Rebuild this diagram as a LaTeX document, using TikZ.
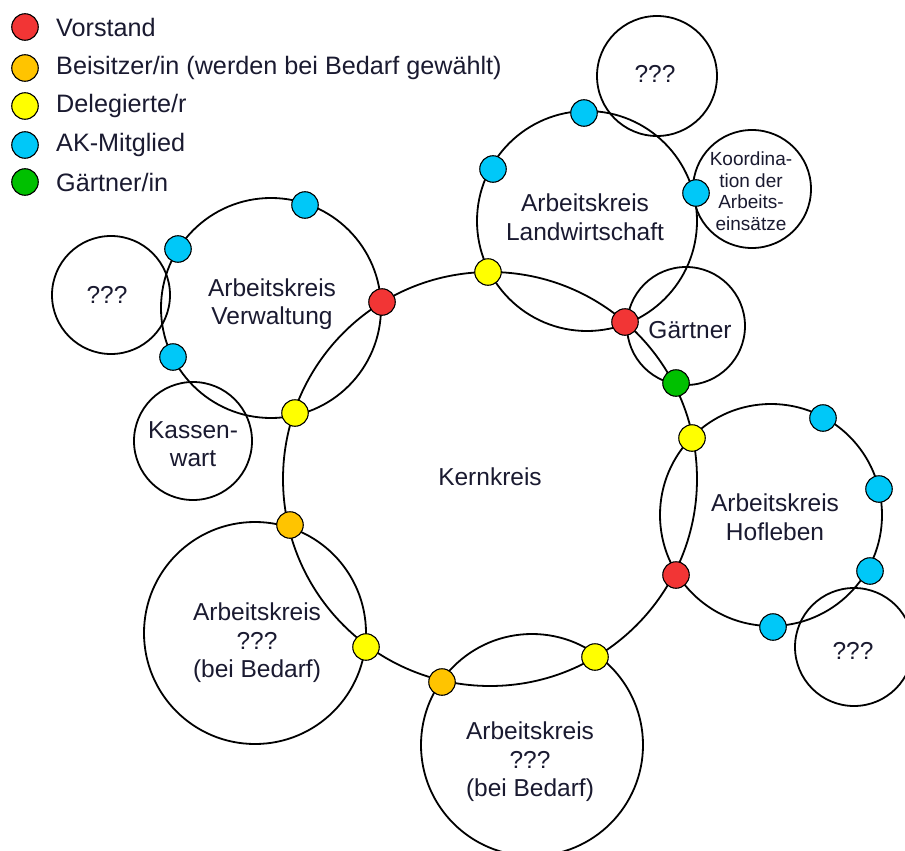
\documentclass[tikz,border=0pt]{standalone}
\usepackage{fontspec}
\setmainfont{Liberation Sans}
\definecolor{cred}{HTML}{F23535}
\definecolor{corange}{HTML}{FFC400}
\definecolor{cyellow}{HTML}{FFFF00}
\definecolor{cblue}{HTML}{00C8F8}
\definecolor{cgreen}{HTML}{00C000}
\definecolor{txt}{HTML}{1A1A30}
\begin{document}
\begin{tikzpicture}[x=1pt,y=-1pt,
  ring/.style={draw, circle, line width=1.8pt, inner sep=0pt},
  dot/.style={draw, circle, line width=1.1pt, minimum size=26.5pt, inner sep=0pt},
  vor/.style={dot, fill=cred},
  bei/.style={dot, fill=corange},
  del/.style={dot, fill=cyellow},
  akm/.style={dot, fill=cblue},
  gae/.style={dot, fill=cgreen},
  lbl/.style={align=center, font=\fontsize{24.5}{28.5}\selectfont, text=txt, inner sep=0pt},
  slbl/.style={align=center, font=\fontsize{19}{21.5}\selectfont, text=txt, inner sep=0pt},
  leg/.style={anchor=west, font=\fontsize{25.2}{29}\selectfont, text=txt, inner sep=0pt}]
\clip (0,0) rectangle (905,851);
\fill[white] (0,0) rectangle (905,851);

% circles
\node[ring, minimum size=414pt] (kern) at (490,479) {};
\node[ring, minimum size=220pt] (verw) at (271,308) {};
\node[ring, minimum size=220pt] (land) at (587,221) {};
\node[ring, minimum size=222pt] (hof) at (771,515) {};
\node[ring, minimum size=222pt] (akl) at (255,633) {};
\node[ring, minimum size=222pt] (akb) at (532,745) {};
\node[ring, minimum size=118pt] (qleft) at (111,295) {};
\node[ring, minimum size=118pt] (kasse) at (193,441) {};
\node[ring, minimum size=120pt] (qtop) at (657,76) {};
\node[ring, minimum size=118pt] (koord) at (752,189) {};
\node[ring, minimum size=118pt] (gaert) at (686,326) {};
\node[ring, minimum size=118pt] (qright) at (854,647) {};

% labels
\node[lbl] (tkern) at (490,477) {Kernkreis};
\node[lbl] (tverw) at (272,304) {Arbeitskreis\\Verwaltung};
\node[lbl] (tland) at (585,217) {Arbeitskreis\\Landwirtschaft};
\node[lbl] (thof) at (775,517) {Arbeitskreis\\Hofleben};
\node[lbl] (takl) at (257,643) {Arbeitskreis\\???\\(bei Bedarf)};
\node[lbl] (takb) at (530,762) {Arbeitskreis\\???\\(bei Bedarf)};
\node[lbl] (tqleft) at (107,295) {???};
\node[lbl] (tkasse) at (193,444) {Kassen-\\wart};
\node[lbl] (tqtop) at (655,74) {???};
\node[slbl] (tkoord) at (751,191) {Koordina-\\tion der\\Arbeits-\\einsätze};
\node[lbl] (tgaert) at (690,330) {Gärtner};
\node[lbl] (tqright) at (853,651) {???};

% member dots
\node[akm] (v1) at (305,205) {};
\node[akm] (v2) at (178,249) {};
\node[akm] (v3) at (173,357) {};
\node[vor] (v4) at (382,302) {};
\node[del] (v5) at (295,413) {};

\node[akm] (l1) at (584,113) {};
\node[akm] (l2) at (493,169) {};
\node[akm] (l3) at (696,193) {};
\node[del] (l4) at (488,272) {};
\node[vor] (l5) at (625,322) {};

\node[gae] (g1) at (676,383) {};

\node[del] (h1) at (692,438) {};
\node[akm] (h2) at (823,418) {};
\node[akm] (h3) at (879,489) {};
\node[akm] (h4) at (870,571) {};
\node[akm] (h5) at (773,627) {};
\node[vor] (h6) at (676,575) {};

\node[bei] (a1) at (290,525) {};
\node[del] (a2) at (366,647) {};
\node[bei] (b1) at (442,682) {};
\node[del] (b2) at (595,657) {};

% legend
\node[vor] (k1) at (25,27) {};
\node[bei] (k2) at (25,68) {};
\node[del] (k3) at (25,106) {};
\node[akm] (k4) at (25,145) {};
\node[gae] (k5) at (25,182) {};
\node[leg] (e1) at (56,27) {Vorstand};
\node[leg] (e2) at (56,68) {Beisitzer/in (werden bei Bedarf gewählt)};
\node[leg] (e3) at (56,106) {Delegierte/r};
\node[leg] (e4) at (56,145) {AK-Mitglied};
\node[leg] (e5) at (56,182) {Gärtner/in};
\end{tikzpicture}
\end{document}
